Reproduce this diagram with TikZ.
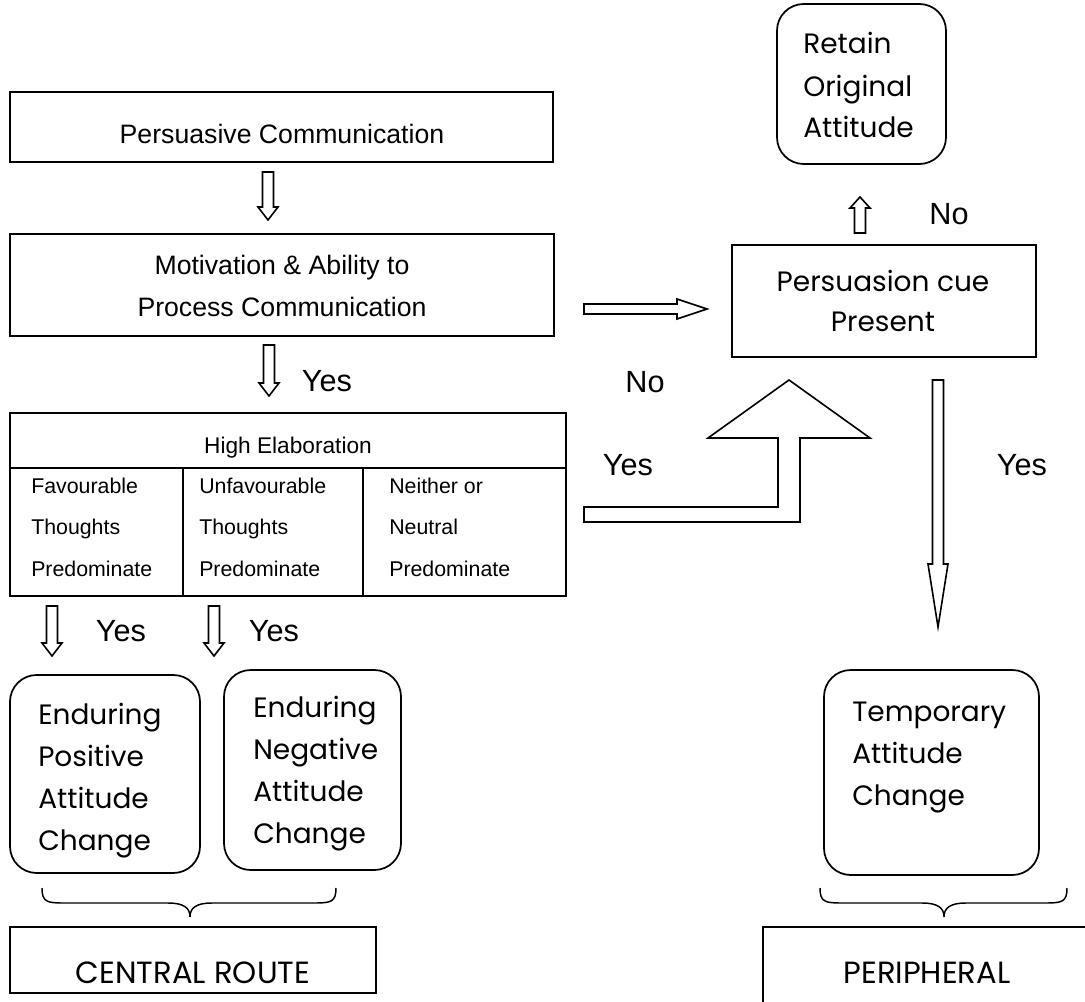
\documentclass[tikz,border=0pt]{standalone}
\usepackage{fontspec}
\setmainfont{Liberation Sans}
\newfontfamily\gothic{Poppins}
\usetikzlibrary{fit}
\newcommand\blockdown[6]{%
  \draw[blk] ({#1-#4},#2) -- ({#1+#4},#2) -- ({#1+#4},{#3-#6}) -- ({#1+#5},{#3-#6}) -- (#1,#3) -- ({#1-#5},{#3-#6}) -- ({#1-#4},{#3-#6}) -- cycle;}
\begin{document}
\begin{tikzpicture}[x=0.75pt,y=-0.75pt,line join=miter]
\tikzset{
  lbl/.style={font=\fontsize{23}{27}\selectfont,anchor=base,inner sep=0},
  ar/.style={font=\fontsize{20}{24}\selectfont,anchor=base,inner sep=0},
  tb/.style={font=\fontsize{16}{19}\selectfont,anchor=base west,inner sep=0},
  gt/.style={font=\gothic\fontsize{21}{25}\selectfont,anchor=base west,inner sep=0},
  gtc/.style={font=\gothic\fontsize{21}{25}\selectfont,anchor=base,inner sep=0},
  gtb/.style={font=\gothic\fontsize{23}{27}\selectfont,anchor=base,inner sep=0},
  blk/.style={draw,fill=white,line width=1.2pt},
  sq/.style={draw,line width=1.3pt,inner sep=0},
  rbox/.style={draw,line width=1.3pt,inner sep=0,rounded corners=20pt},
  brc/.style={draw,line width=1.1pt}
}
\useasboundingbox (0,0) rectangle (1085,1002);

% left column boxes
\node[sq,fit={(10,92) (553,162)}] (b1) {};
\node[ar] (t1) at (282,144) {Persuasive Communication};

\node[sq,fit={(10,234) (554,336)}] (b2) {};
\node[ar] (t2a) at (282,274) {Motivation \& Ability to};
\node[ar] (t2b) at (282,316) {Process Communication};

% table
\node[sq,fit={(10,413) (566,596)}] (tab) {};
\coordinate (hl) at (10,468);
\coordinate (hr) at (566,468);
\draw[line width=1.3pt] (hl) -- (hr);
\coordinate (d1t) at (183,468);
\coordinate (d1b) at (183,596);
\coordinate (d2t) at (363,468);
\coordinate (d2b) at (363,596);
\draw[line width=1.3pt] (d1t) -- (d1b) (d2t) -- (d2b);
\node[font=\fontsize{17}{20}\selectfont,anchor=base,inner sep=0] (th) at (288,453) {High Elaboration};
\node[tb] (c1a) at (31,493) {Favourable};
\node[tb] (c1b) at (31,534) {Thoughts};
\node[tb] (c1c) at (31,576) {Predominate};
\node[tb] (c2a) at (199,493) {Unfavourable};
\node[tb] (c2b) at (199,534) {Thoughts};
\node[tb] (c2c) at (199,576) {Predominate};
\node[tb] (c3a) at (389,493) {Neither or};
\node[tb] (c3b) at (389,534) {Neutral};
\node[tb] (c3c) at (389,576) {Predominate};

% result boxes
\node[rbox,fit={(10,675) (200,873)}] (pos) {};
\node[gt] (p1) at (38,724) {Enduring};
\node[gt] (p2) at (38,766) {Positive};
\node[gt] (p3) at (38,808) {Attitude};
\node[gt] (p4) at (38,850) {Change};

\node[rbox,fit={(224,670) (401,870)}] (neg) {};
\node[gt] (n1) at (253,717) {Enduring};
\node[gt] (n2) at (253,759) {Negative};
\node[gt] (n3) at (253,801) {Attitude};
\node[gt] (n4) at (253,843) {Change};

\node[rbox,fit={(824,670) (1039,875)}] (tmp) {};
\node[gt] (m1) at (852,721) {Temporary};
\node[gt] (m2) at (852,763) {Attitude};
\node[gt] (m3) at (852,805) {Change};

% right top
\node[rbox,fit={(777,4) (946,164)}] (ret) {};
\node[gt] (r1) at (803,54) {Retain};
\node[gt] (r2) at (803,97) {Original};
\node[gt] (r3) at (803,138) {Attitude};

\node[sq,fit={(732,245) (1036,357)}] (cue) {};
\node[gtc] (q1) at (883,291) {Persuasion cue};
\node[gtc] (q2) at (883,331) {Present};

% routes
\node[sq,fit={(10,927) (376,993)}] (cr) {};
\node[gtb] (crt) at (193,983) {CENTRAL ROUTE};
\node[sq,fit={(763,927) (1110,1020)}] (pr) {};
\node[gtb] (prt) at (927,983) {PERIPHERAL};

% braces
\draw[brc] (42,888) .. controls (42,902) and (47,903) .. (64,903) -- (168,903)
  .. controls (184,903) and (190,908) .. (190,917)
  .. controls (190,908) and (196,903) .. (212,903) -- (314,903)
  .. controls (331,903) and (336,902) .. (336,888);
\draw[brc] (820,888) .. controls (820,902) and (825,903) .. (842,903) -- (922,903)
  .. controls (938,903) and (944,908) .. (944,917)
  .. controls (944,908) and (950,903) .. (966,903) -- (1045,903)
  .. controls (1062,903) and (1067,902) .. (1067,888);

% block arrows
\blockdown{268}{172}{220}{5.5}{10}{13}
\blockdown{269}{345}{396}{5.5}{10}{13}
\blockdown{52}{606}{656}{5.5}{10}{13}
\blockdown{214}{606}{656}{5.5}{10}{13}
\blockdown{860}{233}{197}{5.5}{10}{-11}
\blockdown{938}{380}{627}{5.5}{10}{63}
\draw[blk] (584,304) -- (677,304) -- (677,299) -- (707,309) -- (677,319) -- (677,314) -- (584,314) -- cycle;
\draw[blk] (584,507) -- (778,507) -- (778,438) -- (708,438) -- (789,380) -- (870,438) -- (800,438) -- (800,522) -- (584,522) -- cycle;

% labels
\node[lbl] (y1) at (327,391) {Yes};
\node[lbl] (y2) at (121,641) {Yes};
\node[lbl] (y3) at (274,641) {Yes};
\node[lbl] (y4) at (628,475) {Yes};
\node[lbl] (y5) at (1022,475) {Yes};
\node[lbl] (no1) at (645,392) {No};
\node[lbl] (no2) at (949,224) {No};
\end{tikzpicture}
\end{document}
